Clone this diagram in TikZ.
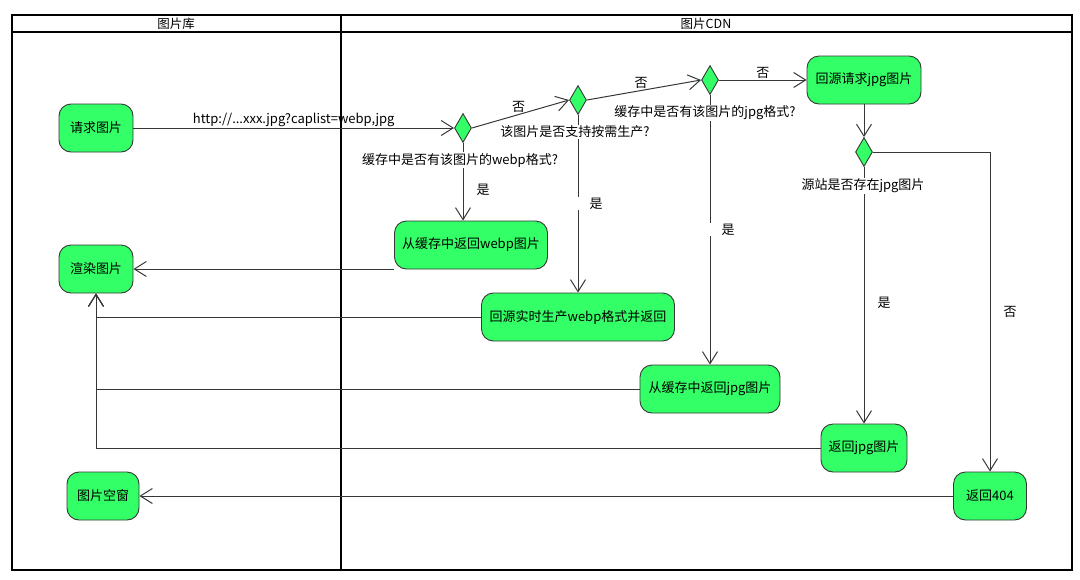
\documentclass[tikz,border=0pt]{standalone}
\usepackage{fontspec}
\setmainfont{Noto Sans CJK SC}
\usepackage{xcolor}
\usepackage{tikz}
\usetikzlibrary{arrows.meta,shapes.geometric}
\definecolor{actgreen}{RGB}{51,255,102}
\definecolor{flowgray}{RGB}{55,55,55}
\newcommand{\actfont}{\fontsize{13}{15}\selectfont}

\begin{document}
\begin{tikzpicture}
[x=1pt,y=-1pt,
 act/.style={draw=flowgray,fill=actgreen,rounded corners=12pt,line width=0.9pt,minimum height=48pt,inner xsep=3pt,font=\actfont},
 dec/.style={draw=flowgray,fill=actgreen,diamond,inner sep=0pt,minimum width=17pt,minimum height=29pt,line width=0.9pt},
 flow/.style={draw=flowgray,line width=1pt,-{Straight Barb[length=12pt,width=15pt,line width=1pt]}},
 lbl/.style={inner sep=1pt,font=\actfont},
 quest/.style={fill=white,inner sep=1pt,font=\actfont},
 gaplbl/.style={fill=white,anchor=west,inner xsep=13pt,inner ysep=1pt,xshift=-2pt,font=\actfont},
 lane/.style={line width=2.2pt}]
\useasboundingbox (0,0) rectangle (1080,579);
% swimlanes
\draw[lane] (12,15) rectangle (1072,570);
\draw[lane] (12,32) -- (1072,32);
\draw[lane] (341,15) -- (341,570);
\node[font=\fontsize{12.5}{14}\selectfont] (HLib) at (176,24) {图片库};
\node[font=\fontsize{12.5}{14}\selectfont] (HCdn) at (706,24) {图片CDN};

% Nodes of the diagram
\node[act,minimum width=74pt] (Req)  at (96,128)  {请求图片};
\node[act,minimum width=74pt] (Ren)  at (96,269)  {渲染图片};
\node[act,minimum width=72pt] (Emp)  at (103,496) {图片空窗};
\node[act,minimum width=153pt] (Wc)  at (471,245) {从缓存中返回webp图片};
\node[act,minimum width=193pt] (Gen) at (578,317) {回源实时生产webp格式并返回};
\node[act,minimum width=140pt] (Jc)  at (710,389) {从缓存中返回jpg图片};
\node[act,minimum width=114pt] (Jreq) at (864,80) {回源请求jpg图片};
\node[act,minimum width=86pt] (Jret) at (864,448) {返回jpg图片};
\node[act,minimum width=73pt] (N404) at (990,496) {返回404};

\node[dec] (D1) at (463,128) {};
\node[dec] (D2) at (578,100) {};
\node[dec] (D3) at (710,80)  {};
\node[dec] (D4) at (864,152) {};

% forward flow
\draw[flow] (Req) to node[lbl,above]{http://...xxx.jpg?caplist=webp,jpg} (D1);
\draw[flow] (D1.east) to node[lbl,above,xshift=-2pt]{否} (D2.west);
\draw[flow] (D2.east) to node[lbl,above,xshift=-3pt]{否} (D3.west);
\draw[flow] (D3.east) to node[lbl,above]{否} (Jreq.west);
\draw[flow] (Jreq) to (D4);
\draw[flow] (D1.south) to node[lbl,pos=0.6,right,xshift=12pt]{是} (D1.south |- Wc.north);
\draw[flow] (D2.south) to node[gaplbl,pos=0.5]{是} (Gen.north);
\draw[flow] (D3.south) to node[gaplbl,pos=0.5]{是} (Jc.north);
\draw[flow] (D4.south) to node[lbl,pos=0.53,right,xshift=12pt]{是} (Jret.north);
\draw[flow] (D4.east) -| node[lbl,pos=0.75,right,xshift=12pt]{否} (N404.north);

% back to the picture library
\draw[flow] (Wc.west |- Ren.east) to (Ren.east);
\draw[flow] (Gen.west) -| (Ren.south);
\draw[flow] (Jc.west) -| (Ren.south);
\draw[flow] (Jret.west) -| (Ren.south);
\draw[flow] (N404.west) to (N404.west -| Emp.east);

% decision texts
\node[quest] (Q1) at (460,160) {缓存中是否有该图片的webp格式?};
\node[quest] (Q2) at (575,132) {该图片是否支持按需生产?};
\node[quest] (Q3) at (705,113) {缓存中是否有该图片的jpg格式?};
\node[quest] (Q4) at (863,186) {源站是否存在jpg图片};
\end{tikzpicture}
\end{document}
